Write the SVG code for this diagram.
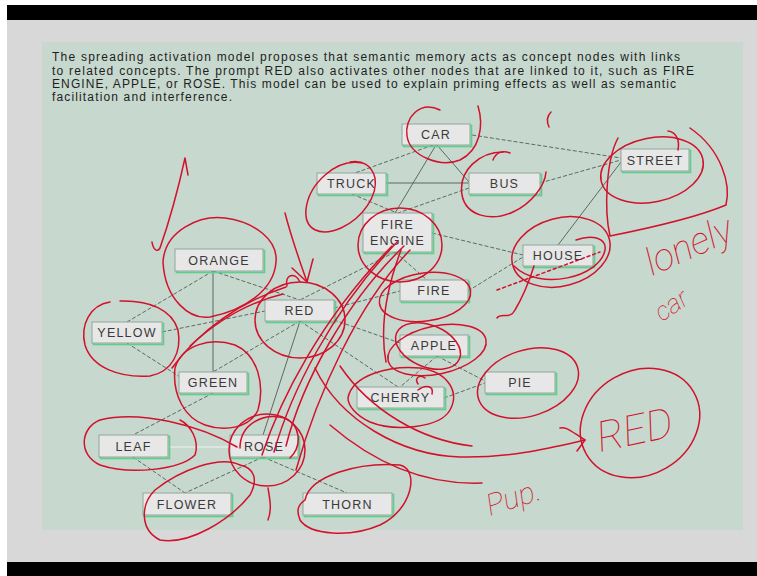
<svg xmlns="http://www.w3.org/2000/svg" width="757" height="576" viewBox="0 0 757 576">
  <defs>
    <style>
      .body { font-family: "Liberation Sans", Arial, sans-serif; font-size: 12px; fill: #1e1e1e; }
      .box { fill: #e6e7e6; stroke: #8fa89a; stroke-width: 1; }
      .glow { fill: none; stroke: #5fd08c; stroke-width: 1.6; }
      .lbl { font-family: "Liberation Sans", Arial, sans-serif; font-size: 12.5px; letter-spacing: 1.2px; fill: #3a3a3a; text-anchor: middle; }
      .link { stroke: #4f5d56; stroke-width: 0.9; fill: none; }
      .dash { stroke-dasharray: 4 2; }
      .faint { stroke: #eef3f0; stroke-width: 1.2; }
      .ink { fill: none; stroke: #d2122c; stroke-width: 1.5; stroke-linecap: round; stroke-linejoin: round; }
      .inkdash { stroke-dasharray: 3 3; }
      .hand { font-family: Roboto, "DejaVu Sans", sans-serif; font-weight: 100; font-style: italic; fill: #d2122c; }
    </style>
  </defs>

  <!-- screen frame -->
  <rect x="0" y="0" width="757" height="576" fill="#ffffff"/>
  <rect x="7" y="5" width="750" height="571" fill="#d8d8d8"/>
  <rect x="7" y="5" width="750" height="15" fill="#000000"/>
  <rect x="7" y="562" width="750" height="14" fill="#000000"/>
  <rect x="42" y="42" width="701" height="488" fill="#c7d8ce"/>

  <!-- slide text -->
  <g id="caption">
    <text class="body" x="52" y="61" textLength="628" lengthAdjust="spacing">The spreading activation model proposes that semantic memory acts as concept nodes with links</text>
    <text class="body" x="52" y="75" textLength="642" lengthAdjust="spacing">to related concepts. The prompt RED also activates other nodes that are linked to it, such as FIRE</text>
    <text class="body" x="52" y="88" textLength="624" lengthAdjust="spacing">ENGINE, APPLE, or ROSE. This model can be used to explain priming effects as well as semantic</text>
    <text class="body" x="52" y="101" textLength="180" lengthAdjust="spacing">facilitation and interference.</text>
  </g>

  <!-- links between concepts -->
  <g id="connectors">
    <line class="link dash" x1="433" y1="145" x2="355" y2="173"/>
    <line class="link dash" x1="472" y1="135" x2="621" y2="158"/>
    <line class="link" x1="437" y1="145" x2="469" y2="182"/>
    <line class="link" x1="436" y1="145" x2="395" y2="213"/>
    <line class="link" x1="386" y1="183" x2="469" y2="183"/>
    <line class="link dash" x1="352" y1="194" x2="397" y2="213"/>
    <line class="link dash" x1="469" y1="188" x2="398" y2="213"/>
    <line class="link dash" x1="540" y1="183" x2="621" y2="160"/>
    <line class="link" x1="621" y1="162" x2="558" y2="245"/>
    <line class="link dash" x1="432" y1="233" x2="523" y2="255"/>
    <line class="link dash" x1="395" y1="252" x2="427" y2="280"/>
    <line class="link dash" x1="395" y1="252" x2="300" y2="300"/>
    <line class="link dash" x1="468" y1="291" x2="523" y2="257"/>
    <line class="link dash" x1="334" y1="308" x2="400" y2="291"/>
    <line class="link dash" x1="334" y1="320" x2="400" y2="343"/>
    <line class="link dash" x1="300" y1="321" x2="398" y2="387"/>
    <line class="link dash" x1="300" y1="321" x2="213" y2="372"/>
    <line class="link" x1="300" y1="321" x2="263" y2="435"/>
    <line class="link dash" x1="213" y1="271" x2="300" y2="300"/>
    <line class="link dash" x1="162" y1="332" x2="265" y2="311"/>
    <line class="link dash" x1="213" y1="271" x2="127" y2="322"/>
    <line class="link" x1="213" y1="271" x2="213" y2="372"/>
    <line class="link dash" x1="127" y1="343" x2="180" y2="377"/>
    <line class="link dash" x1="213" y1="393" x2="133" y2="435"/>
    <line class="link faint" x1="168" y1="447" x2="230" y2="447"/>
    <line class="link dash" x1="133" y1="457" x2="185" y2="493"/>
    <line class="link dash" x1="263" y1="457" x2="185" y2="493"/>
    <line class="link dash" x1="263" y1="457" x2="347" y2="493"/>
    <line class="link dash" x1="437" y1="356" x2="400" y2="387"/>
    <line class="link dash" x1="437" y1="356" x2="485" y2="381"/>
    <line class="link dash" x1="444" y1="398" x2="485" y2="383"/>
  </g>

  <!-- concept nodes -->
  <g id="car"><rect class="glow" x="403.5" y="125.5" width="68" height="21"/><rect class="box" x="402" y="124" width="68" height="21"/><text class="lbl" x="436" y="139">CAR</text></g>
  <g id="truck"><rect class="glow" x="318.5" y="174.5" width="69" height="21"/><rect class="box" x="317" y="173" width="69" height="21"/><text class="lbl" x="351.5" y="188">TRUCK</text></g>
  <g id="bus"><rect class="glow" x="470.5" y="174.5" width="71" height="21"/><rect class="box" x="469" y="173" width="71" height="21"/><text class="lbl" x="504.5" y="188">BUS</text></g>
  <g id="street"><rect class="glow" x="622.5" y="150.5" width="68" height="22"/><rect class="box" x="621" y="149" width="68" height="22"/><text class="lbl" x="655" y="164.5">STREET</text></g>
  <g id="fire-engine"><rect class="glow" x="364.5" y="214.5" width="69" height="39"/><rect class="box" x="363" y="213" width="69" height="39"/><text class="lbl" x="397.5" y="229">FIRE</text><text class="lbl" x="397.5" y="245">ENGINE</text></g>
  <g id="house"><rect class="glow" x="524.5" y="246.5" width="70" height="21"/><rect class="box" x="523" y="245" width="70" height="21"/><text class="lbl" x="558" y="260">HOUSE</text></g>
  <g id="fire"><rect class="glow" x="401.5" y="281.5" width="68" height="21"/><rect class="box" x="400" y="280" width="68" height="21"/><text class="lbl" x="434" y="295">FIRE</text></g>
  <g id="apple"><rect class="glow" x="401.5" y="336.5" width="68" height="21"/><rect class="box" x="400" y="335" width="68" height="21"/><text class="lbl" x="434" y="350">APPLE</text></g>
  <g id="cherry"><rect class="glow" x="358.5" y="388.5" width="87" height="21"/><rect class="box" x="357" y="387" width="87" height="21"/><text class="lbl" x="400.5" y="402">CHERRY</text></g>
  <g id="pie"><rect class="glow" x="486.5" y="373.5" width="70" height="21"/><rect class="box" x="485" y="372" width="70" height="21"/><text class="lbl" x="520" y="387">PIE</text></g>
  <g id="orange"><rect class="glow" x="176.5" y="250.5" width="88" height="22"/><rect class="box" x="175" y="249" width="88" height="22"/><text class="lbl" x="219" y="264.5">ORANGE</text></g>
  <g id="red"><rect class="glow" x="266.5" y="301.5" width="69" height="21"/><rect class="box" x="265" y="300" width="69" height="21"/><text class="lbl" x="299.5" y="315">RED</text></g>
  <g id="yellow"><rect class="glow" x="93.5" y="323.5" width="70" height="21"/><rect class="box" x="92" y="322" width="70" height="21"/><text class="lbl" x="127" y="337">YELLOW</text></g>
  <g id="green"><rect class="glow" x="180.5" y="373.5" width="68" height="21"/><rect class="box" x="179" y="372" width="68" height="21"/><text class="lbl" x="213" y="387">GREEN</text></g>
  <g id="leaf"><rect class="glow" x="100.5" y="436.5" width="69" height="22"/><rect class="box" x="99" y="435" width="69" height="22"/><text class="lbl" x="133.5" y="450.5">LEAF</text></g>
  <g id="rose"><rect class="glow" x="231.5" y="436.5" width="68" height="22"/><rect class="box" x="230" y="435" width="68" height="22"/><text class="lbl" x="264" y="450.5">ROSE</text></g>
  <g id="flower"><rect class="glow" x="144.5" y="494.5" width="88" height="22"/><rect class="box" x="143" y="493" width="88" height="22"/><text class="lbl" x="187" y="508.5">FLOWER</text></g>
  <g id="thorn"><rect class="glow" x="304.5" y="494.5" width="89" height="22"/><rect class="box" x="303" y="493" width="89" height="22"/><text class="lbl" x="347.5" y="508.5">THORN</text></g>

  <!-- red pen markings drawn over the slide -->
  <g id="pen">
    <!-- top cluster -->
    <path class="ink" d="M440 110 C420 100 404 118 407 136 C410 156 440 168 460 160 C480 150 484 126 478 106"/>
    <path class="ink" d="M551 112 Q545 118 549 127"/>
    <path class="ink" d="M362 163 C336 158 309 184 306 209 C304 230 320 237 341 228 C363 218 378 195 375 178 C372 165 362 160 350 162"/>
    <path class="ink" d="M503 152 C480 152 458 170 462 195 C466 216 491 222 513 212 C531 204 545 186 546 172"/>
    <path class="ink" d="M493 160 C496 152 503 150 510 153"/>
    <ellipse class="ink" cx="400" cy="245" rx="42" ry="37"/>
    <ellipse class="ink" cx="561" cy="252" rx="50" ry="34" transform="rotate(-15 561 252)"/>
    <path class="ink" d="M514 266 C540 292 600 277 605 250 C607 238 592 234 576 240"/>
    <path class="ink inkdash" d="M497 290 L600 252"/>
    <path class="ink" d="M534 266 C528 285 521 300 515 310 C510 320 501 312 497 318"/>

    <!-- street -->
    <ellipse class="ink" cx="652" cy="170" rx="52" ry="32" transform="rotate(-12 652 170)"/>
    <path class="ink" d="M618 138 C606 160 604 210 610 236 C650 228 700 216 726 205 C731 185 722 150 690 128"/>
    <path class="ink" d="M668 131 C676 132 680 140 678 150"/>
    <text class="hand" x="652" y="276" font-size="38" transform="rotate(-24 652 276)">lonely</text>
    <text class="hand" x="662" y="322" font-size="26" transform="rotate(-34 662 322)">car</text>

    <!-- left cluster -->
    <path class="ink" d="M188 175 L185 158 C178 190 168 225 160 248 C157 253 153 249 152 242"/>
    <path class="ink" d="M285 213 C292 240 300 262 307 282"/>
    <path class="ink" d="M292 268 L307 282 L313 259"/>
    <path class="ink" d="M163 262 C165 230 200 215 225 218 C255 222 278 240 276 262 C274 290 245 310 210 317 C190 320 165 300 163 262"/>
    <ellipse class="ink" cx="300" cy="320" rx="45" ry="38"/>
    <path class="ink" d="M287 286 C284 275 295 271 300 282"/>
    <path class="ink" d="M110 302 C90 305 80 325 85 345 C92 368 120 378 150 376 C172 372 182 352 178 330 C172 310 150 300 120 301"/>
    <path class="ink" d="M175 368 C182 345 210 337 235 345 C258 355 265 385 258 410 C250 428 225 432 205 425 C185 418 172 395 175 368"/>
    <path class="ink" d="M172 368 C200 330 240 302 286 287"/>
    <path class="ink" d="M190 346 C220 318 250 302 283 294"/>

    <!-- strokes from rose up to fire engine -->
    <path class="ink" d="M262 455 C280 400 320 320 392 246"/>
    <path class="ink" d="M274 452 C290 395 330 312 398 241"/>
    <path class="ink" d="M286 446 C302 382 346 302 404 246"/>
    <path class="ink" d="M296 470 C318 392 358 304 410 250"/>
    <path class="ink" d="M401 250 C386 290 380 330 386 362"/>

    <!-- fruit cluster -->
    <ellipse class="ink" cx="425" cy="297" rx="46" ry="24" transform="rotate(-8 425 297)"/>
    <ellipse class="ink" cx="437" cy="350" rx="50" ry="24" transform="rotate(-12 437 350)"/>
    <ellipse class="ink" cx="428" cy="346" rx="34" ry="21" transform="rotate(22 428 346)"/>
    <path class="ink" d="M348 398 C352 375 390 365 420 368 C448 372 460 392 450 410 C440 428 395 432 370 422 C355 415 348 405 348 398"/>
    <path class="ink" d="M418 384 C414 378 420 374 425 378 M418 390 C426 384 434 386 432 394"/>
    <ellipse class="ink" cx="528" cy="383" rx="52" ry="33" transform="rotate(-18 528 383)"/>

    <!-- flower cluster -->
    <ellipse class="ink" cx="267" cy="450" rx="38" ry="36"/>
    <path class="ink" d="M240 448 C240 425 262 412 285 418 C300 425 303 445 290 458"/>
    <path class="ink" d="M237 447 C200 425 140 410 100 420 C80 428 78 455 100 465 C130 475 180 470 195 455 C200 440 190 425 180 420"/>
    <path class="ink" d="M240 465 C220 455 180 470 155 490 C140 505 140 530 160 540 C190 545 230 520 250 495 C258 480 255 468 240 465"/>
    <path class="ink" d="M305 500 C310 475 360 462 400 465 C420 470 412 510 380 525 C350 538 310 535 300 520 C296 510 298 505 305 500"/>
    <path class="ink" d="M268 488 C270 500 272 510 268 520"/>

    <!-- sweep to the lone RED -->
    <path class="ink" d="M315 368 C340 420 400 455 460 457 C510 458 550 448 585 440"/>
    <path class="ink" d="M340 366 C370 410 420 440 472 446"/>
    <path class="ink" d="M330 425 C380 468 430 485 482 483"/>
    <path class="ink" d="M560 428 C566 426 572 432 585 440 L577 451"/>
    <ellipse class="ink" cx="640" cy="423" rx="62" ry="52" transform="rotate(-30 640 423)"/>
    <text class="hand" x="600" y="452" font-size="42" transform="rotate(-12 600 452)">RED</text>
    <text class="hand" x="490" y="516" font-size="30" transform="rotate(-18 490 516)">Pup.</text>
  </g>
</svg>
